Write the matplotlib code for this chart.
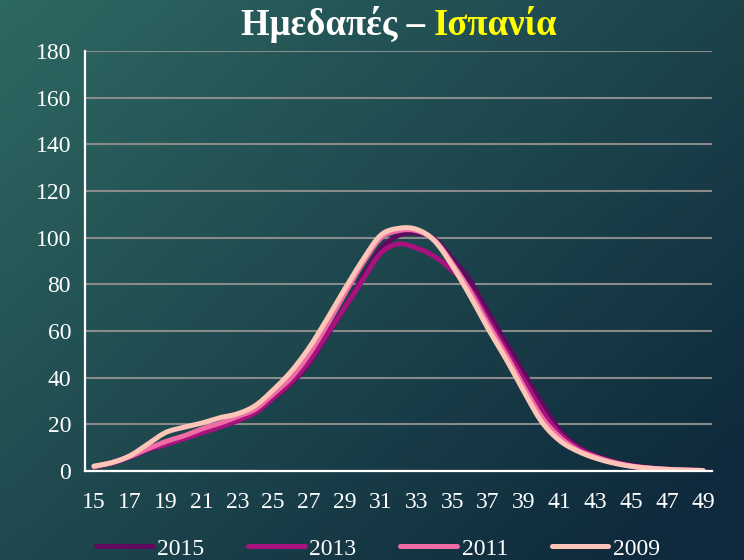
import numpy as np
import matplotlib
matplotlib.use('Agg')
import matplotlib.pyplot as plt

plt.rcParams['font.family'] = ['Liberation Serif', 'DejaVu Serif']

# ages 15..49
ages = np.arange(15, 50)

y2015 = [1.8, 3.4, 6.0, 9.0, 11.5, 14.0, 16.5, 19.0, 21.5, 25.0, 31.0, 37.5, 46.0, 58.0, 70.0,
         83.0, 95.0, 101.0, 102.0, 99.5, 91.0, 81.5, 68.0, 55.0, 42.0, 29.0, 17.5, 10.5, 6.5, 4.0,
         2.4, 1.4, 0.8, 0.4, 0.2]
y2013 = [1.8, 3.4, 6.0, 9.2, 11.3, 13.8, 16.3, 18.8, 21.6, 25.0, 31.3, 38.0, 46.8, 58.5, 70.0,
         81.8, 93.3, 97.3, 95.6, 92.0, 86.0, 78.0, 65.0, 52.0, 39.0, 26.0, 16.0, 10.0, 6.3, 3.9,
         2.3, 1.3, 0.7, 0.4, 0.2]
y2011 = [1.8, 3.6, 6.2, 9.5, 12.6, 15.0, 18.0, 20.4, 23.3, 26.5, 33.0, 40.0, 50.0, 62.5, 76.0,
         89.0, 99.7, 103.0, 103.0, 99.0, 89.0, 77.0, 63.0, 50.0, 36.0, 23.0, 14.5, 9.0, 6.0, 3.7,
         2.1, 1.2, 0.7, 0.4, 0.2]
y2009 = [2.1, 3.6, 6.5, 11.5, 16.5, 18.7, 20.5, 22.8, 24.5, 28.0, 34.7, 42.6, 52.7, 65.0, 78.0,
         90.4, 101.0, 104.0, 103.6, 98.7, 88.0, 75.0, 61.0, 48.0, 34.0, 21.0, 13.0, 8.5, 5.5, 3.4,
         2.0, 1.2, 0.7, 0.4, 0.2]

series = [('2015', y2015, '#5F0A5E'),
          ('2013', y2013, '#A8127E'),
          ('2011', y2011, '#EF6CA5'),
          ('2009', y2009, '#FCC5B8')]


def smooth(x, y, n=20):
    # Catmull-Rom style smoothing, like the spreadsheet "smoothed line"
    x = np.asarray(x, float)
    y = np.asarray(y, float)
    px = np.concatenate([[x[0]], x, [x[-1]]])
    py = np.concatenate([[y[0]], y, [y[-1]]])
    xs, ys = [], []
    t = np.linspace(0, 1, n, endpoint=False)
    for i in range(1, len(px) - 2):
        p0, p1, p2, p3 = (np.array([px[j], py[j]]) for j in (i - 1, i, i + 1, i + 2))
        c1 = p1 + (p2 - p0) / 6
        c2 = p2 - (p3 - p1) / 6
        pts = ((1 - t)[:, None] ** 3 * p1 + 3 * ((1 - t) ** 2 * t)[:, None] * c1
               + 3 * ((1 - t) * t ** 2)[:, None] * c2 + (t ** 3)[:, None] * p2)
        xs.append(pts[:, 0])
        ys.append(pts[:, 1])
    xs.append([x[-1]])
    ys.append([y[-1]])
    return np.concatenate(xs), np.concatenate(ys)


fig = plt.figure(figsize=(7.44, 5.60), dpi=100)

# background gradient
bg = fig.add_axes([0, 0, 1, 1], zorder=-10)
gx, gy = np.meshgrid(np.linspace(0, 1, 200), np.linspace(0, 1, 200))
tt = np.clip(0.6 * gx + 0.5 * gy, 0, 1)
c0 = np.array([46, 104, 98]) / 255
c1 = np.array([15, 42, 60]) / 255
img = c0[None, None, :] * (1 - tt[..., None]) + c1[None, None, :] * tt[..., None]
bg.imshow(img, aspect='auto', extent=[0, 1, 0, 1], origin='upper')
bg.axis('off')

ax = fig.add_axes([85 / 744, 1 - 471 / 560, 627 / 744, 420 / 560])
ax.patch.set_alpha(0)

for name, vals, col in series:
    sx, sy = smooth(ages, vals)
    ax.plot(sx, sy, color=col, lw=3.6, label=name, solid_capstyle='round')

ax.set_xlim(14.5, 49.5)
ax.set_ylim(0, 180)
ax.set_yticks(np.arange(0, 181, 20))
ax.set_xticks(ages[::2])
ax.set_xticklabels([str(a) for a in ages[::2]])
ax.grid(axis='y', color='#8A8A8A', lw=1.5)
ax.set_axisbelow(True)
for s in ['top', 'right']:
    ax.spines[s].set_visible(False)
for s in ['left', 'bottom']:
    ax.spines[s].set_color('white')
    ax.spines[s].set_linewidth(1.6)
ax.tick_params(length=0, colors='white', labelsize=17)
ax.tick_params(axis='x', pad=15)
ax.tick_params(axis='y', pad=10)

leg = fig.legend(loc='center', bbox_to_anchor=(0.508, 0.02), ncol=4, frameon=False,
                 fontsize=17, labelcolor='white', handlelength=2.4, handletextpad=0.2,
                 columnspacing=1.85)

fig.text(434 / 744, 1 - 35 / 560, 'Ημεδαπές – ', color='white', fontsize=26.5,
         fontweight='bold', ha='right', va='baseline')
fig.text(434 / 744, 1 - 35 / 560, 'Ισπανία', color='#FFFF00', fontsize=26.5,
         fontweight='bold', ha='left', va='baseline')

fig.savefig('out.png', dpi=100)
